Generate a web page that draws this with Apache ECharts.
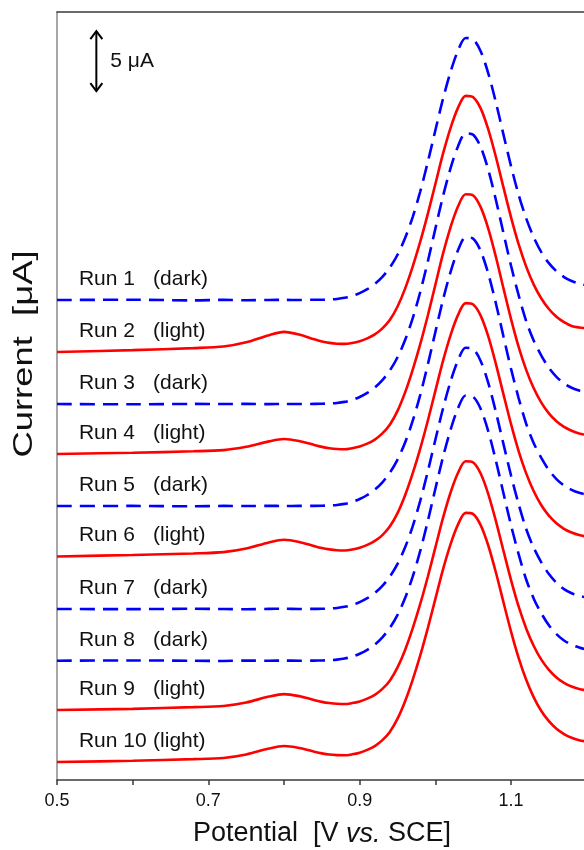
<!DOCTYPE html>
<html>
<head>
<meta charset="utf-8">
<script src="https://cdn.jsdelivr.net/npm/echarts/dist/echarts.min.js"></script>
<style>
  html, body { margin: 0; padding: 0; background: #ffffff; }
  #chart { width: 584px; height: 850px; }
</style>
</head>
<body>
<div id="chart"></div>
<script>
// Sampled potentials, V vs. SCE
const potentials = [0.50, 0.60, 0.68, 0.72, 0.75, 0.78, 0.80, 0.82,
                    0.84, 0.85, 0.86, 0.87, 0.88, 0.89, 0.90, 0.91, 0.92, 0.93, 0.94, 0.95, 0.96,
                    0.97, 0.98, 0.99, 1.00, 1.01, 1.02, 1.03, 1.04, 1.05, 1.06, 1.07, 1.08, 1.09,
                    1.10, 1.11, 1.12, 1.13, 1.14, 1.15, 1.16, 1.17, 1.18, 1.19, 1.20];

// Current of each run above its own starting baseline, μA
const run1  = [0.00, 0.02, -0.03, 0.01, -0.02, 0.00, 0.01, 0.00,
               0.02, 0.02, 0.04, 0.09, 0.18, 0.33, 0.57, 0.90, 1.34, 1.93, 2.72, 3.77, 5.16, 6.91, 9.04, 11.50, 14.15, 16.74, 19.00, 20.80, 21.83, 21.72, 20.71, 18.87, 16.46, 13.78, 11.15, 8.78, 6.80, 5.22, 3.99, 3.07, 2.39, 1.91, 1.58, 1.36, 1.23];
const run2  = [0.00, 0.15, 0.32, 0.45, 0.80, 1.40, 1.67, 1.45, 1.05, 0.88, 0.76, 0.69, 0.67,
               0.75, 0.90, 1.13, 1.46, 1.96, 2.68, 3.79, 5.28, 7.11, 9.19, 11.51, 14.00, 16.50, 18.66, 20.36, 21.34, 21.23, 20.28, 18.53, 16.25, 13.71, 11.22, 8.98, 7.11, 5.61, 4.45, 3.58, 2.93, 2.48, 2.17, 2.04, 1.97];
const run3  = [0.00, -0.02, 0.01, 0.00, 0.02, -0.01, 0.01, 0.00,
               0.01, 0.02, 0.05, 0.09, 0.18, 0.34, 0.59, 0.93, 1.38, 1.99, 2.81, 3.90, 5.33, 7.14, 9.34, 11.88, 14.62, 17.30, 19.63, 21.49, 22.56, 22.44, 21.40, 19.50, 17.00, 14.24, 11.52, 9.07, 6.91, 5.28, 4.04, 3.02, 2.27, 1.72, 1.36, 1.13, 1.00];
const run4  = [0.00, 0.10, 0.22, 0.32, 0.60, 1.05, 1.25, 1.08, 0.75, 0.59, 0.48, 0.41, 0.39,
               0.48, 0.62, 0.86, 1.20, 1.71, 2.46, 3.59, 5.13, 7.01, 9.15, 11.54, 14.10, 16.67, 18.89, 20.64, 21.64, 21.54, 20.55, 18.76, 16.41, 13.80, 11.24, 8.93, 7.01, 5.47, 4.28, 3.38, 2.72, 2.25, 1.93, 1.71, 1.59];
const run5  = [0.00, 0.01, -0.02, 0.01, 0.00, 0.02, 0.00, 0.01,
               0.01, 0.02, 0.05, 0.09, 0.18, 0.34, 0.59, 0.92, 1.37, 1.98, 2.79, 3.87, 5.29, 7.09, 9.27, 11.79, 14.51, 17.17, 19.49, 21.33, 22.39, 22.28, 21.24, 19.35, 16.88, 14.13, 11.43, 9.00, 6.86, 5.24, 4.01, 2.99, 2.25, 1.71, 1.35, 1.10, 0.95];
const run6  = [0.00, 0.12, 0.25, 0.36, 0.66, 1.17, 1.39, 1.21, 0.86, 0.70, 0.59, 0.52, 0.50,
               0.58, 0.73, 0.96, 1.29, 1.78, 2.51, 3.61, 5.10, 6.92, 8.99, 11.31, 13.80, 16.28, 18.43, 20.13, 21.11, 21.00, 20.05, 18.31, 16.03, 13.51, 11.02, 8.78, 6.92, 5.43, 4.27, 3.40, 2.76, 2.30, 1.99, 1.78, 1.66];
const run7  = [0.00, -0.01, 0.02, 0.00, -0.02, 0.01, 0.02, 0.00,
               0.01, 0.02, 0.04, 0.09, 0.18, 0.33, 0.57, 0.90, 1.33, 1.93, 2.71, 3.76, 5.14, 6.89, 9.01, 11.47, 14.11, 16.69, 18.95, 20.74, 21.77, 21.66, 20.65, 18.82, 16.41, 13.74, 11.12, 8.75, 6.67, 5.10, 3.89, 2.91, 2.19, 1.66, 1.31, 1.09, 0.96];
const run8  = [0.00, 0.02, 0.00, -0.02, 0.01, 0.00, 0.01, 0.00,
               0.01, 0.02, 0.04, 0.09, 0.18, 0.33, 0.58, 0.91, 1.35, 1.95, 2.75, 3.82, 5.22, 7.00, 9.15, 11.64, 14.33, 16.95, 19.23, 21.05, 22.10, 21.99, 20.97, 19.10, 16.66, 13.95, 11.28, 8.88, 6.77, 5.17, 3.95, 2.95, 2.22, 1.69, 1.33, 1.11, 0.93];
const run9  = [0.00, 0.10, 0.24, 0.34, 0.63, 1.12, 1.33, 1.16, 0.83, 0.68, 0.58, 0.52, 0.50,
               0.58, 0.72, 0.95, 1.27, 1.76, 2.47, 3.55, 5.01, 6.80, 8.84, 11.11, 13.55, 15.99, 18.11, 19.77, 20.73, 20.63, 19.69, 17.98, 15.75, 13.27, 10.83, 8.63, 6.80, 5.34, 4.20, 3.35, 2.72, 2.27, 1.96, 1.76, 1.64];
const run10 = [0.00, 0.10, 0.24, 0.34, 0.63, 1.12, 1.33, 1.17, 0.86, 0.72, 0.62, 0.57, 0.56,
               0.64, 0.78, 1.01, 1.33, 1.82, 2.53, 3.61, 5.07, 6.85, 8.88, 11.16, 13.59, 16.03, 18.14, 19.80, 20.76, 20.66, 19.72, 18.02, 15.79, 13.31, 10.87, 8.68, 6.85, 5.39, 4.25, 3.40, 2.77, 2.33, 2.02, 1.82, 1.70];

const runNames   = ['Run 1', 'Run 2', 'Run 3', 'Run 4', 'Run 5', 'Run 6', 'Run 7', 'Run 8', 'Run 9', 'Run 10'];
const conditions = ['(dark)', '(light)', '(dark)', '(light)', '(dark)', '(light)', '(dark)', '(dark)', '(light)', '(light)'];
// Vertical offset of each trace in the stack, μA
const offsets    = [40.0, 35.67, 31.33, 27.17, 22.83, 18.63, 14.25, 9.94, 5.83, 1.5];
const xTickLabels = [0.5, 0.7, 0.9, 1.1];
const scaleBar = 5; // μA

const runs = [run1, run2, run3, run4, run5, run6, run7, run8, run9, run10];

const FONT = '"Liberation Sans", Arial, Helvetica, sans-serif';
const RED = '#ff0000';
const BLUE = '#0000ff';

const series = runs.map((run, i) => {
  const dark = conditions[i] === '(dark)';
  return {
    name: runNames[i],
    type: 'line',
    data: potentials.map((v, j) => [v, run[j] + offsets[i]]),
    showSymbol: false,
    smooth: 0.3,
    silent: true,
    lineStyle: {
      color: dark ? BLUE : RED,
      width: 2.6,
      type: dark ? [15, 8] : 'solid'
    },
    z: 3
  };
});

const chart = echarts.init(document.getElementById('chart'), null, { renderer: 'canvas' });

chart.setOption({
  animation: false,
  backgroundColor: '#ffffff',
  grid: {
    left: 57, right: -78.4, top: 12, bottom: 70,
    containLabel: false,
    outerBoundsMode: 'none'
  },
  xAxis: [
    {
      type: 'value',
      min: 0.5, max: 1.3, interval: 0.1,
      axisLine: { show: true, onZero: false, lineStyle: { color: '#3a3a3a', width: 1.5 } },
      axisTick: { show: true, length: 5, lineStyle: { color: '#3a3a3a', width: 1.5 } },
      axisLabel: {
        fontSize: 18, color: '#111', fontFamily: FONT, margin: 12,
        formatter: v => xTickLabels.some(t => Math.abs(t - v) < 1e-6) ? v.toFixed(1) : ''
      },
      splitLine: { show: false }
    },
    {
      type: 'value', position: 'top',
      min: 0.5, max: 1.3, interval: 0.1,
      axisLine: { show: true, onZero: false, lineStyle: { color: '#3a3a3a', width: 1.5 } },
      axisTick: { show: false },
      axisLabel: { show: false },
      splitLine: { show: false }
    }
  ],
  yAxis: {
    type: 'value',
    min: 0, max: 64,
    axisLine: { show: true, onZero: false, lineStyle: { color: '#8a8a8a', width: 1.5 } },
    axisTick: { show: false },
    axisLabel: { show: false },
    splitLine: { show: false }
  },
  series: series
});

// Run labels, axis titles and the current scale bar, placed through the grid's scales
const px = (x, y) => chart.convertToPixel({ gridIndex: 0 }, [x, y]);
const graphics = [];

runNames.forEach((name, i) => {
  const yv = offsets[i] + 1.75;
  const a = px(0.529, yv);
  const b = px(0.627, yv);
  graphics.push({
    type: 'text', x: a[0], y: a[1], z: 10,
    style: { text: name, font: '21px ' + FONT, fill: '#111', align: 'left', verticalAlign: 'middle' }
  });
  graphics.push({
    type: 'text', x: b[0], y: b[1], z: 10,
    style: { text: conditions[i], font: '21px ' + FONT, fill: '#111', align: 'left', verticalAlign: 'middle' }
  });
});

// 5 μA scale bar
const barTop = px(0.552, 62.4);
const barBot = px(0.552, 62.4 - scaleBar);
const bx = barTop[0];
const head = 6, headLen = 8;
graphics.push({
  type: 'group', z: 10,
  children: [
    { type: 'line', shape: { x1: bx, y1: barTop[1], x2: bx, y2: barBot[1] }, style: { stroke: '#000', lineWidth: 2 } },
    { type: 'polyline', shape: { points: [[bx - head, barTop[1] + headLen], [bx, barTop[1]], [bx + head, barTop[1] + headLen]] }, style: { stroke: '#000', lineWidth: 2, fill: null } },
    { type: 'polyline', shape: { points: [[bx - head, barBot[1] - headLen], [bx, barBot[1]], [bx + head, barBot[1] - headLen]] }, style: { stroke: '#000', lineWidth: 2, fill: null } }
  ]
});
graphics.push({
  type: 'text', x: bx + 14, y: (barTop[1] + barBot[1]) / 2, z: 10,
  style: { text: scaleBar + ' μA', font: '21px ' + FONT, fill: '#111', align: 'left', verticalAlign: 'middle' }
});

// Axis titles
graphics.push({
  type: 'text', x: 322, y: 834, z: 10,
  style: {
    text: '{n|Potential  [V }{i|vs.}{n| SCE]}',
    align: 'center', verticalAlign: 'middle',
    rich: {
      n: { font: '27px ' + FONT, fill: '#111' },
      i: { font: 'italic 27px ' + FONT, fill: '#111' }
    }
  }
});
graphics.push({
  type: 'text', x: 24, y: 354, rotation: Math.PI / 2, scaleX: 1.3, z: 10,
  style: { text: 'Current  [μA]', font: '28px ' + FONT, fill: '#111', align: 'center', verticalAlign: 'middle' }
});

chart.setOption({ graphic: graphics });
</script>
</body>
</html>
